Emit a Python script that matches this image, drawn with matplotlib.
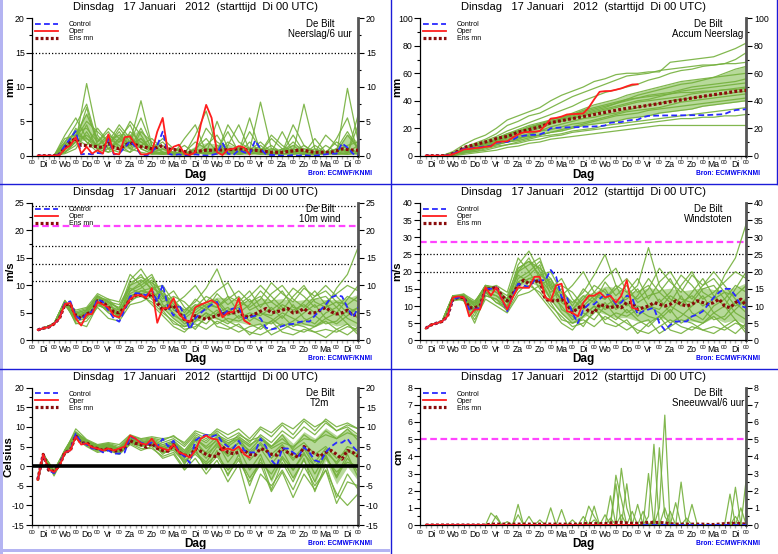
import numpy as np
import matplotlib
matplotlib.use("Agg")
import matplotlib.pyplot as plt
from matplotlib.lines import Line2D
from matplotlib.patches import Rectangle
from matplotlib.ticker import MultipleLocator
import matplotlib.transforms as mtransforms

plt.rcParams['font.family'] = ['Liberation Sans', 'DejaVu Sans']

# ---------------- time axes (hours after start) ----------------
hours6 = list(range(6, 361, 6))               # 60 steps, control / ens mean
hours6_oper = hours6[:40]                      # oper runs to +240h
hours12 = [6] + list(range(12, 361, 12))       # members (31 values)
day_names = ['Di', 'Wo', 'Do', 'Vr', 'Za', 'Zo', 'Ma', 'Di', 'Wo', 'Do', 'Vr', 'Za', 'Zo', 'Ma', 'Di']
title_text = 'Dinsdag   17 Januari   2012  (starttijd  Di 00 UTC)'
station = 'De Bilt'
legend_labels = ['Control', 'Oper', 'Ens mn']

# ---------------- Neerslag / 6 uur (mm) ----------------
precip_ctrl = [0,0,0,0,0.2,1.5,2.5,3.6,0.2,0.3,
               0.2,0.4,0.3,2.5,0.2,0.3,1.2,2.1,1.3,0.1,
               0.0,0.5,1.5,3.5,0.3,0.1,0.2,0.0,0.1,0.2,
               0.1,0.0,0.1,0.3,1.9,0.3,0.1,0.8,0.5,0.2,
               2.2,1.0,0.2,0.1,0.1,0,0,0.1,0,0.1,
               0,0,0.1,0.2,0.3,0.3,1.8,1.2,0.3,0]
precip_oper = [0,0,0,0,0.1,1.0,1.5,2.7,0.3,1.3,
               0.3,0.8,0.3,3.1,0.3,0.2,2.7,2.8,1.5,0.2,
               0.2,0.5,3.5,5.5,0.3,1.3,1.6,0.3,0.1,0.5,
               4.5,7.4,5.5,0.5,0.1,0.9,1.0,1.4,1.2,0.2]
precip_mean = [0,0,0,0,0.2,1.2,2.0,2.5,1.5,1.5,
               1.4,1.3,1.2,1.8,1.2,1.0,1.5,1.9,1.6,1.3,
               1.2,1.0,1.2,1.5,1.0,0.9,0.8,0.6,0.5,0.6,
               0.7,0.8,0.8,0.9,0.8,0.9,0.9,1.0,0.9,0.8,
               0.8,0.7,0.6,0.5,0.5,0.5,0.6,0.7,0.8,0.8,
               0.6,0.5,0.5,0.5,0.5,0.7,1.0,0.9,0.8,0.8]
precip_members = [
    [0,0,0,1.5,3.5,2.0,1.0,2.0,3.0,1.5,2.5,0.5,1.0,0.2,0.5,0.3,1.0,0.5,2.0,1.0,0.5,1.5,0.2,0.5,1.0,0.3,0.5,0.2,1.0,0.5,0.3],
    [0,0,0,0.5,2.0,10.5,3.0,1.0,2.5,4.5,1.0,0.3,0.5,0.2,0.1,0.5,0.2,1.5,0.8,0.2,0.5,0.3,0.1,1.0,0.5,0.2,0.1,0.5,2.0,1.0,0.5],
    [0,0,0,2.0,4.5,7.5,2.0,3.5,1.0,2.0,8.0,1.5,0.5,0.2,0.3,1.0,2.5,0.5,0.3,1.2,0.8,2.0,0.5,0.2,0.5,1.5,0.3,0.2,0.5,3.0,1.0],
    [0,0,0,1.0,2.5,1.5,4.0,2.0,4.5,2.5,1.5,2.5,1.0,0.5,0.2,3.0,6.5,1.0,0.5,0.3,2.0,0.5,1.5,0.3,0.2,0.5,1.0,0.5,0.2,9.8,2.0],
    [0,0,0,3.0,5.5,2.5,1.5,3.0,2.0,5.0,3.0,0.5,0.2,0.5,1.5,0.3,0.5,0.2,1.5,4.5,0.8,7.8,1.0,0.5,3.0,0.5,0.2,1.5,0.5,0.3,4.5],
    [0,0,0,0.5,1.5,4.5,0.8,1.5,3.5,1.0,4.0,1.0,2.0,0.3,0.2,0.5,0.3,5.0,1.0,0.5,0.2,0.5,2.5,1.0,0.5,7.5,1.0,0.3,0.2,0.5,1.5],
    [0,0,0,2.5,3.0,6.0,2.5,1.0,0.5,3.5,2.0,0.8,0.3,1.0,0.5,0.2,1.0,0.8,3.5,0.5,1.0,0.3,0.2,0.5,1.5,0.3,2.5,0.5,0.3,1.0,0.5],
    [0,0,0,1.2,2.0,3.0,1.5,2.5,1.5,0.5,3.5,2.0,0.5,0.2,2.5,4.5,0.5,0.3,0.2,0.5,3.5,1.0,0.3,0.2,0.5,0.2,0.5,3.0,1.5,0.5,0.2],
    [0,0,0,0.8,4.0,2.0,0.5,1.0,2.0,3.0,1.0,0.3,0.2,0.5,0.2,1.0,0.3,0.5,0.3,0.2,0.5,0.2,0.5,3.5,0.5,0.3,0.2,0.5,0.2,0.3,6.0],
    [0,0,0,1.8,2.5,5.0,3.5,2.0,1.0,1.5,2.5,1.0,1.5,0.2,0.3,0.2,1.5,3.0,0.5,1.0,0.3,0.2,1.0,0.5,2.0,0.5,0.3,0.2,2.5,5.5,0.5],
    [0,0,0,0.3,1.0,3.5,1.0,0.5,2.5,1.0,0.5,0.2,0.3,0.1,0.2,0.5,0.2,0.3,0.5,0.2,0.3,0.5,0.2,0.3,0.2,0.5,0.2,0.3,0.5,0.2,0.3],
    [0,0,0,2.0,3.5,4.0,2.0,4.0,2.5,2.0,5.5,1.5,0.5,0.3,0.5,2.0,1.0,0.5,4.5,2.0,1.0,0.5,3.0,1.5,0.5,1.0,0.5,0.5,1.0,3.5,1.0],
    [0,0,0,0.5,2.0,7.0,1.5,0.5,1.0,0.5,1.5,0.5,0.2,0.5,0.3,0.2,0.5,1.0,0.3,0.5,5.5,0.5,0.2,1.0,0.3,0.2,1.5,0.5,0.3,0.2,0.5],
    [0,0,0,1.0,3.0,2.5,1.0,1.5,4.0,2.0,2.0,1.0,2.5,1.0,0.2,0.5,4.0,2.0,1.0,0.3,0.5,1.0,0.5,0.5,4.5,1.5,0.5,0.2,0.5,1.5,2.0],
]

# ---------------- Accumulated precipitation (mm) ----------------
accum_ctrl = [0,0,0,0,0.2,1.5,3.0,5.0,5.3,5.8,
              6.2,6.8,7.2,9.5,9.8,10.0,11.5,13.8,14.5,15.0,
              15.2,15.5,17.0,20.0,20.3,20.5,20.6,20.7,20.8,21.0,
              21.2,21.3,21.5,22.0,24.0,24.3,24.5,25.5,26.0,26.2,
              28.0,29.0,29.1,29.2,29.3,29.3,29.3,29.4,29.4,29.5,
              29.5,29.5,29.6,29.8,30.0,30.3,32.0,33.2,33.6,33.8]
accum_oper = [0,0,0,0,0.1,1.1,2.6,4.6,4.9,5.5,
              5.8,6.5,6.8,10.0,10.3,10.5,13.2,15.5,17.0,17.3,
              17.5,18.0,22.0,27.0,27.5,28.5,30.0,30.3,30.4,30.8,
              35.0,41.0,46.5,47.0,47.1,48.0,49.0,50.5,51.8,52.0]
accum_mean = [0,0,0,0,0.2,1.5,3.5,6.0,7.0,8.0,
              9.0,10.0,11.0,12.5,13.3,14.0,15.5,17.2,18.0,19.0,
              20.0,21.0,22.5,24.0,24.8,25.5,26.3,27.0,27.7,28.5,
              29.2,30.0,30.8,31.5,32.3,33.0,33.8,34.5,35.0,35.5,
              36.0,36.7,37.3,38.0,38.7,39.3,40.0,40.6,41.3,42.0,
              42.6,43.2,43.8,44.4,45.0,45.5,46.2,46.8,47.2,47.5]
accum_members = [
    [0,0,0,3,8,12,15,20,26,29,32,35,40,44,47,50,54,56,59,60,60,61,61,68,69,70,71,72,75,78,82],
    [0,0,0,2,6,9,12,16,22,25,29,31,35,39,43,46,49,52,55,58,59,60,62,63,64,65,66,66,67,70,75],
    [0,0,0,2,5,8,11,14,18,21,24,27,30,33,36,40,43,46,48,50,52,55,57,60,62,63,65,66,67,67,68],
    [0,0,0,1,4,7,9,12,16,19,22,24,26,28,31,34,37,39,41,44,46,48,50,52,54,55,56,57,58,59,60],
    [0,0,0,2,5,7,9,11,14,17,20,23,26,28,30,32,34,36,38,40,42,44,45,46,48,50,51,52,53,54,56],
    [0,0,0,1,3,5,7,10,13,15,18,20,23,26,28,30,32,34,36,38,40,41,43,45,47,48,49,50,51,52,53],
    [0,0,0,2,5,8,10,13,16,18,20,22,24,25,27,29,31,33,35,37,39,40,41,42,43,45,46,47,48,49,50],
    [0,0,0,1,3,4,6,8,10,12,15,18,21,23,25,27,28,30,31,33,35,37,38,40,41,42,43,44,45,46,47],
    [0,0,0,1,4,6,8,10,12,14,16,18,19,21,23,24,26,28,30,32,33,34,35,37,39,40,41,42,43,44,45],
    [0,0,0,1,2,4,6,8,10,11,13,15,17,19,21,23,25,27,29,30,31,33,34,35,36,37,38,39,40,41,42],
    [0,0,0,1,3,5,7,9,11,13,14,15,17,18,20,22,23,24,25,27,28,29,31,32,33,34,36,37,38,39,40],
    [0,0,0,1,2,3,5,7,8,10,12,14,15,16,18,19,20,22,23,24,25,26,27,28,29,30,31,32,33,34,35],
    [0,0,0,0,2,3,4,6,8,9,11,12,14,15,17,18,19,20,21,22,23,24,25,26,27,27,28,28,29,29,30],
    [0,0,0,0,1,2,3,4,6,7,9,10,12,13,14,15,16,17,18,19,20,21,22,22,22,22,22,22,22,22,22],
    [0,0,0,2,4,6,9,12,15,18,21,23,25,27,29,31,33,35,38,41,44,46,48,50,52,53,55,57,60,63,65],
    [0,0,0,1,3,6,8,11,14,16,19,21,24,27,30,33,35,37,39,41,42,43,44,45,46,46,47,47,48,48,49],
]

# ---------------- 10m wind (m/s) ----------------
wind_ctrl = [1.9,2.2,2.4,3.0,4.0,6.8,7.1,4.5,3.7,4.9,
             5.2,7.5,7.0,5.5,4.0,3.4,5.5,8.0,8.6,8.5,
             8.2,9.2,7.0,10.2,6.0,4.5,6.5,4.5,2.0,4.0,
             5.0,5.8,6.5,7.0,4.5,5.5,5.8,6.0,4.0,4.2,
             4.5,4.0,2.3,2.0,2.2,2.6,2.9,3.0,3.3,3.5,
             3.4,4.5,5.5,6.5,7.8,8.2,8.0,6.0,4.2,6.0]
wind_oper = [1.9,2.2,2.4,3.0,4.0,6.6,6.8,4.0,2.7,4.7,
             4.8,7.0,6.5,6.0,4.5,4.2,6.0,7.5,8.2,8.2,
             7.8,9.5,3.2,5.8,5.9,7.7,4.8,3.8,3.3,6.0,
             6.5,6.9,7.3,6.6,4.2,5.0,5.2,7.7,3.6,3.0]
wind_mean = [1.9,2.2,2.4,3.0,4.0,6.5,6.6,4.5,4.0,4.8,
             5.2,7.2,7.0,6.0,5.2,5.0,6.0,7.5,8.2,8.2,
             7.8,8.5,6.8,5.5,6.0,6.3,5.0,3.8,3.2,4.5,
             4.2,3.8,4.2,4.5,4.8,5.0,5.0,5.3,4.3,4.3,
             4.8,5.3,5.8,5.0,5.2,5.5,5.8,5.0,5.2,5.8,
             5.0,5.0,5.5,6.0,5.2,4.8,5.0,5.5,4.5,4.8]
wind_members = [
    [1.9,2.2,3.0,7.0,4.5,5.0,7.5,6.5,5.0,9.0,10.5,12.0,8.0,6.0,4.0,5.5,7.0,6.0,8.0,5.0,6.5,9.0,7.0,5.5,8.0,10.0,7.0,6.0,9.5,12.0,17.0],
    [1.9,2.2,3.0,6.5,4.0,4.5,7.0,5.0,4.0,8.0,9.0,8.5,6.0,4.0,2.5,3.5,5.0,4.0,3.0,4.5,3.0,2.0,3.5,5.0,4.0,3.0,2.5,4.0,5.0,3.0,1.5],
    [1.9,2.2,3.1,7.2,5.0,5.5,8.0,7.0,6.5,10.0,11.0,9.5,10.0,7.0,5.5,7.0,9.5,13.0,8.0,7.0,9.0,6.0,8.5,10.0,7.5,6.0,8.0,9.0,7.0,6.5,8.0],
    [1.9,2.2,2.9,6.8,3.5,4.0,6.5,5.5,4.5,7.5,8.0,7.0,5.0,3.5,2.0,2.5,4.0,5.5,3.5,2.5,1.5,1.0,2.0,3.0,2.0,1.5,2.5,3.5,2.0,1.0,2.5],
    [1.9,2.2,3.0,7.0,5.5,6.0,8.5,7.5,5.5,11.0,13.0,10.0,7.5,9.0,6.0,4.5,6.0,7.5,5.0,6.5,8.0,10.0,8.0,6.0,5.0,7.0,9.0,6.5,5.0,7.5,10.0],
    [1.9,2.2,3.0,6.6,4.2,5.0,7.2,6.0,4.5,8.5,9.5,11.0,6.5,5.0,3.0,4.0,3.0,5.0,6.0,4.0,5.0,4.5,6.0,4.0,6.5,4.0,3.0,5.0,6.0,4.0,3.0],
    [1.9,2.2,3.0,7.3,3.0,3.5,6.0,4.0,3.5,6.5,7.0,8.0,9.0,5.5,4.5,6.0,8.0,7.0,4.5,5.5,3.5,5.0,4.0,2.5,3.5,5.0,6.5,4.0,3.0,4.5,6.0],
    [1.9,2.2,3.0,6.9,4.8,5.2,7.8,6.8,6.0,9.5,8.5,9.0,7.0,8.0,7.0,5.0,6.5,6.0,7.5,9.0,7.0,8.0,5.5,7.0,9.5,8.0,6.0,7.0,8.5,10.0,9.0],
    [1.9,2.2,3.0,7.1,4.4,4.6,6.8,5.2,5.0,9.0,10.0,7.5,5.5,3.0,2.5,3.0,2.0,3.5,2.5,1.5,2.5,3.0,1.0,2.0,3.0,2.5,1.5,0.5,2.0,3.0,1.0],
    [1.9,2.2,3.0,6.4,3.8,5.5,8.0,7.2,4.0,10.5,11.5,10.5,9.0,6.5,8.0,10.0,7.0,9.0,10.5,7.0,6.0,7.5,10.5,8.5,7.0,9.5,8.0,10.0,8.0,6.0,5.0],
    [1.9,2.2,3.0,7.0,4.6,4.3,7.0,6.2,5.5,8.0,9.0,9.5,8.5,4.5,3.5,2.0,4.5,3.0,4.0,3.5,4.5,3.5,3.0,4.5,2.5,3.5,4.5,3.0,3.5,5.5,4.0],
    [1.9,2.2,3.0,6.7,5.2,5.8,7.5,7.5,7.0,12.0,10.0,11.5,8.0,6.0,4.5,6.5,5.5,8.5,6.5,8.0,5.5,6.5,7.0,9.0,6.0,5.5,7.5,8.0,6.0,8.0,7.0],
    [1.9,2.2,3.0,6.8,3.2,2.5,6.3,5.8,4.2,7.0,8.5,6.5,4.5,2.5,1.5,3.5,5.0,2.5,2.0,3.0,1.0,2.5,3.5,1.5,1.0,2.0,1.5,2.0,1.5,2.5,2.0],
    [1.9,2.2,3.0,7.2,4.9,5.6,8.2,7.0,5.8,10.0,12.0,9.0,6.0,7.5,5.0,7.5,6.0,4.5,5.5,6.0,7.5,5.0,4.5,6.5,5.5,6.5,5.0,6.0,7.0,5.0,6.0],
]

# ---------------- Windstoten (m/s) ----------------
gust_ctrl = [3.5,4.5,5.0,5.5,7.0,12.0,12.5,12.5,9.0,9.0,
             9.5,15.0,15.0,15.5,12.0,8.5,13.0,16.5,16.0,15.5,
             17.5,17.5,17.5,20.5,18.5,12.5,12.5,8.0,5.0,9.0,
             10.5,10.5,12.0,13.5,13.0,10.5,11.0,13.0,12.5,7.5,
             8.5,9.0,9.5,5.0,3.0,4.5,5.5,5.5,5.5,7.0,
             7.5,8.5,10.5,12.5,14.0,15.0,15.0,13.0,10.0,9.5]
gust_oper = [3.5,4.5,5.0,5.5,7.0,12.5,12.8,12.5,7.0,9.0,
             9.0,15.5,13.0,15.5,12.0,9.0,12.5,15.5,15.3,15.3,
             18.5,18.5,12.5,11.5,16.0,16.5,8.5,8.0,7.0,11.0,
             13.0,13.0,14.0,12.5,13.0,11.0,13.0,17.5,9.5,9.0]
gust_mean = [3.5,4.5,5.0,5.5,7.0,12.0,12.5,12.5,9.5,9.5,
             10.0,15.0,15.0,15.5,13.0,11.5,13.5,16.0,17.5,16.5,
             17.0,17.5,12.0,11.5,11.5,12.0,10.5,8.0,9.5,10.0,
             8.5,8.0,10.5,10.0,9.5,10.0,9.5,11.0,11.0,9.0,
             9.5,10.0,11.0,10.5,10.0,10.5,11.5,10.5,10.0,10.5,
             11.5,11.0,10.5,11.0,12.0,10.0,9.5,11.0,12.0,10.0]
gust_members = [
    [3.5,4.5,5.5,12.5,13,9,15,14,11,20,22,24,15,12,8,11,14,12,16,10,13,18,14,11,16,20,14,12,19,24,34],
    [3.5,4.5,5.5,12,12,8,14,11,9,16,18,17,12,8,5,7,10,8,6,9,6,4,7,10,8,6,5,8,10,6,3],
    [3.5,4.5,5.6,13,13.5,10,16,15,13,21,23,19,20,14,11,14,19,25,16,14,18,12,17,20,15,12,16,18,14,13,16],
    [3.5,4.5,5.4,12,12,7,13,12,10,15,16,14,10,7,4,5,8,11,7,5,3,2,4,6,4,3,5,7,4,2,5],
    [3.5,4.5,5.5,12.5,13,11,16,15,12,22,26,20,15,18,12,9,12,15,10,13,16,27,16,12,10,14,18,13,10,15,20],
    [3.5,4.5,5.5,12,12.5,10,14,13,10,17,19,22,13,10,6,8,6,10,12,8,10,9,12,8,13,8,6,10,12,8,6],
    [3.5,4.5,5.5,13,11.5,6,12,10,8,13,14,16,18,11,9,12,16,14,9,11,7,10,8,5,7,10,13,8,6,9,12],
    [3.5,4.5,5.5,12.5,13,10.5,15.5,15,12,19,17,18,14,16,14,10,13,12,15,18,14,16,11,14,19,16,12,14,17,20,18],
    [3.5,4.5,5.5,13,12.5,9,14,11,10,18,20,15,11,6,5,6,4,7,5,3,5,6,2,4,6,5,3,2,4,6,2],
    [3.5,4.5,5.5,11.5,12,11,16,15.5,9,21,23,21,18,13,16,20,14,18,21,14,12,15,21,17,14,19,16,20,16,12,10],
    [3.5,4.5,5.5,12.5,12.5,8.5,14,13,11,16,18,19,17,9,7,4,9,6,8,7,9,7,6,9,5,7,9,6,7,11,8],
    [3.5,4.5,5.5,12,13.5,11.5,15,16,14,24,20,23,16,12,9,13,11,17,13,16,11,13,14,18,12,11,15,16,12,16,14],
    [3.5,4.5,5.5,12.5,11.5,5,13,12,8.5,14,17,13,9,5,3,7,10,5,4,6,2,5,7,3,2,4,3,4,3,5,4],
    [3.5,4.5,5.5,13,13,11,16,14,12,20,24,18,12,15,10,15,12,9,11,12,15,10,9,13,11,13,10,12,14,10,12],
]

# ---------------- T2m (Celsius) ----------------
t2m_ctrl = [-3.5,3.0,-1.0,-1.8,0.5,3.5,4.0,8.3,6.0,5.5,
            4.5,4.5,3.5,4.0,3.2,3.2,3.5,7.5,7.0,6.0,
            5.5,6.0,5.0,7.0,5.0,6.5,3.5,2.5,0.8,6.5,
            7.5,8.0,7.5,8.0,6.0,5.0,4.5,6.5,4.0,3.5,
            3.5,7.0,5.0,1.5,0.0,4.5,4.5,3.5,2.5,4.8,
            3.5,1.5,1.0,3.5,5.0,6.0,6.0,7.0,5.0,3.5]
t2m_oper = [-3.5,3.0,-0.8,-1.5,0.0,3.5,4.0,7.5,5.5,5.8,
            4.8,4.5,4.0,4.5,4.0,4.5,5.0,7.8,7.0,5.8,
            5.5,7.0,5.0,4.5,4.0,5.5,3.5,3.0,2.2,4.0,
            7.0,7.8,7.0,6.8,4.0,4.5,4.0,5.0,3.0,2.2]
t2m_mean = [-3.5,3.0,-1.0,-1.3,0.2,3.5,4.0,7.8,5.8,6.0,
            4.8,4.5,4.0,4.5,3.8,4.0,4.5,6.5,5.8,5.5,
            4.8,5.8,4.5,4.0,3.8,5.5,3.5,2.8,2.5,4.5,
            3.8,3.0,2.5,2.5,5.0,3.5,3.2,3.5,4.0,3.0,
            2.8,4.5,4.0,3.0,2.8,4.5,3.5,3.0,2.2,5.0,
            4.0,3.2,2.5,3.5,4.0,3.0,1.8,4.0,3.5,2.5]
t2m_members = [
    [-3.5,3.0,-1.5,3.5,8.0,6.0,4.5,5.0,4.0,7.0,6.0,6.5,5.0,6.0,3.0,7.0,5.0,7.5,6.0,7.0,5.0,8.0,6.0,9.0,7.0,10.0,8.0,11.0,9.0,10.0,8.0],
    [-3.5,3.0,-2.0,3.2,7.5,5.5,4.0,4.5,3.5,6.0,5.0,5.5,3.5,4.5,1.5,3.0,0.5,3.0,-1.0,2.0,-3.0,1.0,-2.0,2.5,-1.0,3.0,0.0,2.0,-1.5,1.0,0.0],
    [-3.5,3.0,-1.0,4.0,8.5,6.5,5.0,5.5,4.5,7.5,6.5,7.0,6.0,7.0,5.0,8.0,6.5,9.0,7.0,8.5,6.0,9.5,7.5,10.5,8.0,11.5,9.0,12.0,10.0,11.0,9.5],
    [-3.5,3.0,-2.5,3.0,7.0,5.0,3.5,4.0,3.0,5.5,4.0,5.0,2.0,3.0,-1.0,2.0,-2.0,1.5,-4.0,0.5,-9.5,-2.0,-5.0,-1.0,-6.0,0.0,-5.0,-1.0,-7.0,-10.0,-7.0],
    [-3.5,3.0,-1.2,3.8,8.2,6.2,4.8,5.2,4.2,6.8,5.8,6.0,4.5,5.5,2.5,6.5,3.0,5.5,2.5,5.0,1.5,4.5,0.5,4.0,-1.0,3.5,-2.0,3.0,-3.0,2.0,-1.5],
    [-3.5,3.0,-1.8,3.6,9.5,6.8,5.5,6.0,5.5,8.0,7.0,7.5,7.0,7.5,6.0,9.0,8.0,8.0,6.5,7.5,5.5,7.0,4.5,6.0,5.0,7.0,6.5,8.0,7.0,8.5,7.5],
    [-3.5,3.0,-1.5,3.4,7.8,5.8,4.2,4.8,3.8,6.5,5.5,5.8,3.0,5.0,0.5,4.5,-1.0,4.0,-2.5,3.0,-5.0,2.0,-6.0,1.0,-4.0,2.0,-6.5,0.5,-8.0,-2.0,-6.0],
    [-3.5,3.0,-1.4,4.2,8.8,6.4,5.2,5.6,4.6,7.2,6.2,6.8,5.5,6.5,4.0,7.5,6.0,8.5,5.0,7.0,3.5,6.0,3.0,5.5,2.0,5.0,1.0,4.5,0.5,4.0,2.0],
    [-3.5,3.0,-2.2,3.3,7.2,5.2,3.8,4.2,3.2,5.8,4.5,4.5,2.5,3.5,-0.5,3.5,1.0,5.0,3.0,6.0,4.0,7.0,5.0,8.0,4.0,6.0,3.0,5.0,2.0,4.0,3.0],
    [-3.5,3.0,-1.6,3.7,8.0,6.0,4.6,5.0,4.0,6.6,5.6,6.2,4.0,5.8,2.0,5.0,2.0,6.0,1.0,4.5,-1.0,3.0,-3.5,2.0,-3.0,1.5,-4.0,2.5,-2.5,3.0,-3.0],
    [-3.5,3.0,-1.3,4.1,8.6,6.6,5.3,5.8,5.0,7.8,6.8,7.2,6.5,7.8,5.5,8.5,7.0,9.5,8.0,9.5,7.0,10.0,8.5,11.0,9.5,12.0,10.0,11.5,9.0,10.5,9.5],
    [-3.5,3.0,-1.7,3.5,7.6,5.6,4.4,4.6,3.6,6.2,5.2,5.4,3.5,4.0,1.0,4.0,-0.5,2.5,-2.0,1.5,-4.0,0.5,-6.5,-1.5,-8.0,-2.0,-6.0,-1.0,-9.5,-4.0,-5.0],
    [-3.5,3.0,-1.5,3.9,8.4,6.3,5.0,5.4,4.4,7.0,6.0,6.4,4.8,6.2,3.5,7.0,4.5,6.5,4.0,6.0,3.0,5.5,2.0,5.0,1.5,4.5,0.0,3.5,1.0,5.0,4.0],
    [-3.5,3.0,-1.9,3.6,7.9,5.9,4.7,5.1,4.1,6.9,5.9,6.1,4.2,5.2,2.5,5.5,3.5,7.0,5.5,8.0,6.5,7.5,5.0,7.0,4.5,8.0,6.0,9.0,7.0,9.5,6.5],
]

# ---------------- Sneeuwval / 6 uur (cm) ----------------
snow_ctrl = [0] * 60
snow_oper = [0] * 40
snow_mean = [0,0,0,0,0,0,0,0,0,0,
             0,0,0.05,0.05,0.05,0.05,0.05,0.05,0.05,0.05,
             0.05,0.05,0.05,0.05,0.05,0.05,0.05,0.05,0.05,0.08,
             0.08,0.08,0.08,0.08,0.12,0.15,0.15,0.12,0.1,0.1,
             0.12,0.15,0.15,0.15,0.12,0.08,0.05,0.05,0.05,0.05,
             0.05,0.05,0.03,0.03,0.05,0.08,0.1,0.1,0.08,0.05]
snow_members = [
    [0,0,0,0,0,0,0,0,0,0, 0,0,0.7,0.4,0,0,0,0,0,0, 0,0,0,0,0,0,0,0,0,0,
     0,0,0,0,0,2.9,1.5,0,0,0, 0,0,0,1.0,6.4,0,0,0,0,0, 0,0,0,0,0,0,0,0,0,0],
    [0,0,0,0,0,0,0,0,0,0, 0,0,0,0,0,0,0,1.2,0,0, 0,0,0,0,0,0,0,0,0,0,
     0,0,0,0,0,0,3.3,1.0,0,0, 0,0.5,4.7,0,0,0,0,0,0,0, 0,0,0,0,0,0,0,0,0,0],
    [0,0,0,0,0,0,0,0,0,0, 0,0,0,0.55,0,0,0,0.6,0,0, 0,0,0,1.0,0,0,0,0,0,0,
     0,0,0,0,1.7,0,0,0,0,0, 0,0,0,4.5,0.5,0,0,0,0,0, 0,0,0,0,0,0,0,0,0,0],
    [0,0,0,0,0,0,0,0,0,0, 0,0,0,0,0,0,0,0,0,0.5, 0,0,0,0,0,0.9,0,0,0,0,
     0,0,0,0,0,2.4,0,2.4,0,0, 0,3.0,0,0,0,0,0,2.5,0,0, 0,0,0,0,0,0,0,0,0,0],
    [0,0,0,0,0,0,0,0,0,0, 0,0,0,0,0,0,0,0,0,0, 0,0,0,0,0,0,0,0,0,0,
     1.1,0.5,0,0,0,0,0,0,0,1.2, 0,0,0,0,0,0,1.3,0,0,1.2, 0,0,0,0,0,0,0,2.2,0,0],
    [0,0,0,0,0,0,0,0,0,0, 0,0,0,0,0,0,0,0,0,0, 0,0.3,0,0,0,0,0,0,0,0.5,
     0,1.1,0,0,0,0,0,0,0.8,0, 0,0,0,0,0,0,0,0,0,0, 0,0,0,0,0,0,1.8,0,0,2.7],
    [0,0,0,0,0,0,0,0,0,0, 0,0,0,0,0,0.2,0,0,0,0, 0,0,0,0,0,0,0,0.3,0,0,
     0,0,0,0.6,0,0,0,0,0,0, 0.8,0,0,0,0,0.8,0,0,0,0, 0,0,0,0,0,0,0,0,1.0,0],
    [0,0,0,0,0,0,0,0,0,0, 0,0,0,0,0,0,0,0,0,0, 0,0,0,0,0,0,0,0,0,0,
     0,0.3,0,0,0.4,0,0.6,0,0,0, 0,0,0.3,0,1.0,0,0,0,0.4,0, 0,0,0,0,0,0,0,0.5,0,0],
]

# ---------------- drawing ----------------
W, H = 778, 554
fig = plt.figure(figsize=(W / 100, H / 100), dpi=100)
ROW_H = 184.67
GREEN = '#74b03c'
BAND = '#9fcd78'
CTRL_C = '#2a2aff'
OPER_C = '#ff1e1e'
MEAN_C = '#8a0c0c'
MAGENTA = '#ff44ff'


def draw_panel(row, col, mtimes, members, ctrl, oper, mean, ylim, ystep, yminor,
               ylabel, subtitle, dotted=(), magenta=None, zero=False, ylabel_x=-0.068,
               band=True):
    left_px = 32.3 if col == 0 else 420.3
    top_px = row * ROW_H + 18.3
    w_px, h_px = 326.0, 137.4
    ax = fig.add_axes([left_px / W, 1 - (top_px + h_px) / H, w_px / W, h_px / H])

    if band:
        arr = np.array(members, dtype=float)
        ax.fill_between(mtimes, np.percentile(arr, 20, axis=0), np.percentile(arr, 80, axis=0),
                        color=BAND, alpha=0.75, lw=0, zorder=1.5)
    for m in members:
        ax.plot(mtimes, m, color=GREEN, lw=0.9, alpha=0.9, zorder=2)
    for v in dotted:
        ax.axhline(v, color='black', lw=0.9, ls=(0, (1, 1.6)), zorder=1)
    if magenta is not None:
        ax.axhline(magenta, color=MAGENTA, lw=1.6, ls=(0, (3, 1.6)), zorder=1)
    if zero:
        ax.axhline(0, color='black', lw=2.6, zorder=6)
    l_mean, = ax.plot(hours6, mean, color=MEAN_C, lw=2.3, ls=(0, (0.9, 0.7)),
                      dash_capstyle='butt', zorder=4)
    l_ctrl, = ax.plot(hours6, ctrl, color=CTRL_C, lw=1.3, ls=(0, (3.2, 1.8)), zorder=5)
    l_oper, = ax.plot(hours6_oper, oper, color=OPER_C, lw=1.3, zorder=5)

    ax.set_xlim(0, 360)
    ax.set_ylim(*ylim)
    yt = np.arange(ylim[0], ylim[1] + 0.001, ystep)
    ax.set_yticks(yt)
    ax.yaxis.set_minor_locator(MultipleLocator(yminor))
    ax.set_yticklabels(['%g' % v for v in yt])
    ax.tick_params(axis='y', which='both', left=True, right=True, labelleft=True,
                   labelright=True, direction='out', labelsize=6.3, pad=1.5, width=0.8)
    ax.tick_params(axis='y', which='major', length=4)
    ax.tick_params(axis='y', which='minor', length=2)

    ax.set_xticks(np.arange(0, 361, 24))
    ax.set_xticklabels(['00'] * 16, fontsize=4.3)
    ax.xaxis.set_minor_locator(MultipleLocator(6))
    ax.tick_params(axis='x', which='major', length=2.5, pad=0.8, width=0.8, color='#777777')
    ax.tick_params(axis='x', which='minor', length=2, width=1.0, color='#aaaaaa')

    ax.spines['top'].set_visible(False)
    ax.spines['right'].set_linewidth(2.0)
    ax.spines['right'].set_color('#555555')
    ax.spines['left'].set_linewidth(0.9)
    ax.spines['bottom'].set_linewidth(0.9)

    blend = mtransforms.blended_transform_factory(ax.transData, ax.transAxes)
    for i, d in enumerate(day_names):
        ax.text(12 + 24 * i, -0.066, d, transform=blend, ha='center', va='center', fontsize=6.2)

    ax.text(0.5, -0.138, 'Dag', transform=ax.transAxes, ha='center', va='center',
            fontsize=8.5, fontweight='bold')
    ax.text(1.042, -0.133, 'Bron: ECMWF/KNMI', transform=ax.transAxes, ha='right',
            va='center', fontsize=4.8, fontweight='bold', color='#0000ee')
    ax.text(ylabel_x, 0.5, ylabel, transform=ax.transAxes, ha='center', va='center',
            rotation=90, fontsize=8.2, fontweight='bold')
    ax.text(0.5, 1.079, title_text, transform=ax.transAxes, ha='center', va='center',
            fontsize=8)
    ax.text(0.882, 0.958, station, transform=ax.transAxes, ha='center', va='center', fontsize=7)
    ax.text(0.882, 0.885, subtitle, transform=ax.transAxes, ha='center', va='center', fontsize=7)

    ax.legend([l_ctrl, l_oper, l_mean], legend_labels, loc='upper left',
              bbox_to_anchor=(3 / w_px, 1 - 3 / h_px), borderaxespad=0, borderpad=0,
              frameon=False, fontsize=5, handlelength=3.2, handletextpad=1.6,
              labelspacing=0.0)
    return ax


draw_panel(0, 0, hours12, precip_members, precip_ctrl, precip_oper, precip_mean,
           (0, 20), 5, 2.5, 'mm', 'Neerslag/6 uur', dotted=(15,))
draw_panel(0, 1, hours12, accum_members, accum_ctrl, accum_oper, accum_mean,
           (0, 100), 20, 10, 'mm', 'Accum Neerslag', ylabel_x=-0.07)
draw_panel(1, 0, hours12, wind_members, wind_ctrl, wind_oper, wind_mean,
           (0, 25), 5, 2.5, 'm/s', '10m wind', dotted=(10.8, 13.9, 17.2, 24.5), magenta=20.8)
draw_panel(1, 1, hours12, gust_members, gust_ctrl, gust_oper, gust_mean,
           (0, 40), 5, 2.5, 'm/s', 'Windstoten', dotted=(20, 25), magenta=28.5, ylabel_x=-0.07)
draw_panel(2, 0, hours12, t2m_members, t2m_ctrl, t2m_oper, t2m_mean,
           (-15, 20), 5, 2.5, 'Celsius', 'T2m', zero=True, ylabel_x=-0.073)
draw_panel(2, 1, hours6, snow_members, snow_ctrl, snow_oper, snow_mean,
           (0, 8), 1, 0.5, 'cm', 'Sneeuwval/6 uur', magenta=5, band=False, ylabel_x=-0.068)

# panel frames
BLUE = '#1c1cd8'
LAV = '#b4b4f2'
fig.add_artist(Line2D([390.5 / W, 390.5 / W], [0, 1], transform=fig.transFigure, color=BLUE, lw=1.0))
for y in (184.0, 368.8):
    fig.add_artist(Line2D([0, 1], [1 - y / H, 1 - y / H], transform=fig.transFigure, color=BLUE, lw=1.0))
fig.add_artist(Line2D([776.5 / W, 776.5 / W], [1 - 184 / H, 1], transform=fig.transFigure, color=BLUE, lw=1.0))
fig.add_artist(Rectangle((0, 0), 2.5 / W, 1, transform=fig.transFigure, color=LAV, lw=0))
fig.add_artist(Rectangle((0, 2.5 / H), 390 / W, 2.5 / H, transform=fig.transFigure, color=LAV, lw=0))

fig.savefig('out.png', dpi=100)
